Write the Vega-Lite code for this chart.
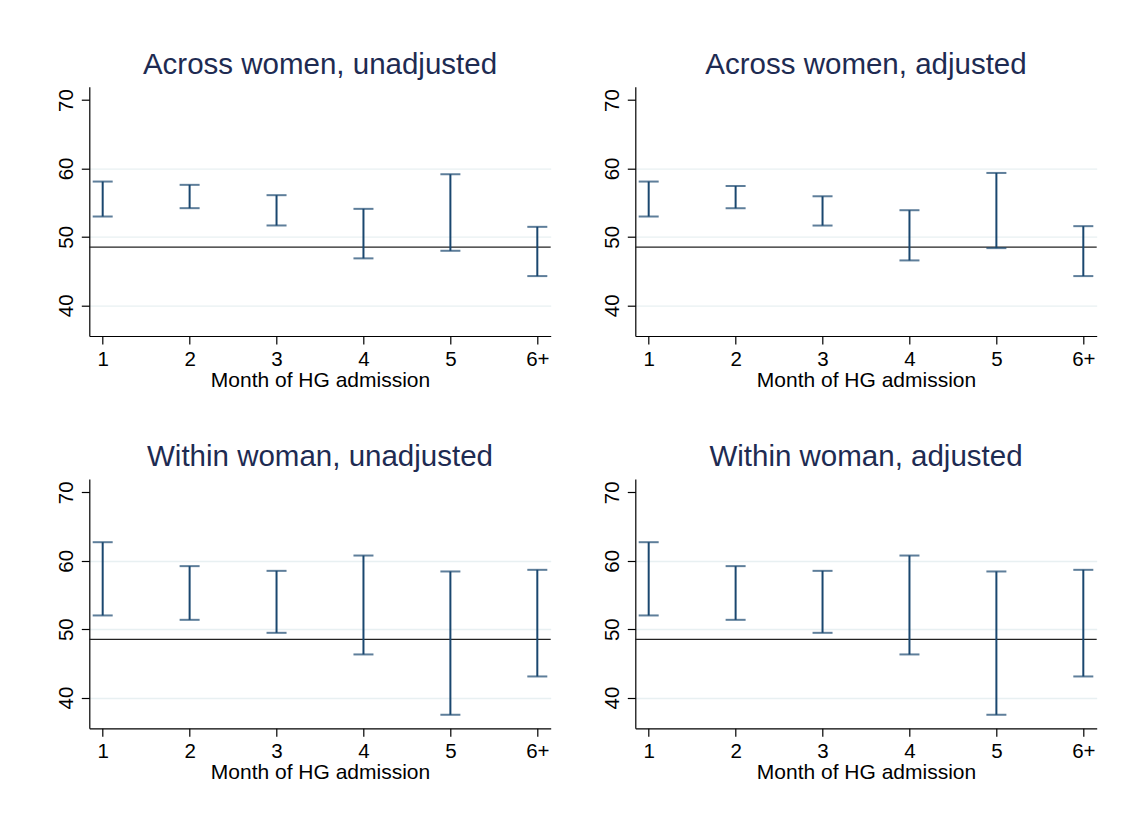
{
  "$schema": "https://vega.github.io/schema/vega-lite/v6.json",
  "autosize": {"type": "none"},
  "padding": {"left": 89.3, "top": 86.7, "right": 1040.7, "bottom": 736.3},
  "background": "white",
  "datasets": {
    "ci": [
      {"panel": "Across women, unadjusted", "month": 1, "lo": 52.97, "hi": 58.08},
      {"panel": "Across women, unadjusted", "month": 2, "lo": 54.19, "hi": 57.6},
      {"panel": "Across women, unadjusted", "month": 3, "lo": 51.66, "hi": 56.09},
      {"panel": "Across women, unadjusted", "month": 4, "lo": 46.85, "hi": 54.09},
      {"panel": "Across women, unadjusted", "month": 5, "lo": 47.96, "hi": 59.15},
      {"panel": "Across women, unadjusted", "month": 6, "lo": 44.26, "hi": 51.46},
      {"panel": "Across women, adjusted", "month": 1, "lo": 52.97, "hi": 58.08},
      {"panel": "Across women, adjusted", "month": 2, "lo": 54.18, "hi": 57.43},
      {"panel": "Across women, adjusted", "month": 3, "lo": 51.65, "hi": 55.93},
      {"panel": "Across women, adjusted", "month": 4, "lo": 46.55, "hi": 53.89},
      {"panel": "Across women, adjusted", "month": 5, "lo": 48.35, "hi": 59.34},
      {"panel": "Across women, adjusted", "month": 6, "lo": 44.26, "hi": 51.56},
      {"panel": "Within woman, unadjusted", "month": 1, "lo": 52.0, "hi": 62.71},
      {"panel": "Within woman, unadjusted", "month": 2, "lo": 51.36, "hi": 59.21},
      {"panel": "Within woman, unadjusted", "month": 3, "lo": 49.46, "hi": 58.52},
      {"panel": "Within woman, unadjusted", "month": 4, "lo": 46.3, "hi": 60.76},
      {"panel": "Within woman, unadjusted", "month": 5, "lo": 37.48, "hi": 58.43},
      {"panel": "Within woman, unadjusted", "month": 6, "lo": 43.08, "hi": 58.67},
      {"panel": "Within woman, adjusted", "month": 1, "lo": 52.0, "hi": 62.71},
      {"panel": "Within woman, adjusted", "month": 2, "lo": 51.36, "hi": 59.21},
      {"panel": "Within woman, adjusted", "month": 3, "lo": 49.46, "hi": 58.52},
      {"panel": "Within woman, adjusted", "month": 4, "lo": 46.3, "hi": 60.76},
      {"panel": "Within woman, adjusted", "month": 5, "lo": 37.48, "hi": 58.43},
      {"panel": "Within woman, adjusted", "month": 6, "lo": 43.08, "hi": 58.67}
    ],
    "ref": [{"ref": 48.5}]
  },
  "config": {
    "font": "Liberation Sans",
    "view": {"stroke": null, "fill": "white"},
    "title": {"fontSize": 29.5, "fontWeight": "normal", "color": "#1e2b52", "font": "Liberation Sans", "anchor": "middle", "baseline": "alphabetic", "offset": 6.7},
    "axis": {
      "domainColor": "#000000", "domainWidth": 1.2,
      "tickColor": "#000000", "tickWidth": 1.2, "tickSize": 8,
      "labelColor": "#000000", "labelFontSize": 20.5, "labelFont": "Liberation Sans",
      "titleColor": "#000000", "titleFontSize": 21, "titleFont": "Liberation Sans", "titleFontWeight": "normal"
    },
    "rule": {"color": "#1a476f", "strokeWidth": 2},
    "tick": {"color": "#1a476f", "thickness": 2, "size": 20, "orient": "horizontal"}
  },
  "bounds": "flush",
  "columns": 2,
  "spacing": {"row": 142.3, "column": 84},
  "concat": [
    {
      "title": "Across women, unadjusted", "width": 461.4, "height": 249.3,
      "layer": [
        {"data": {"name": "ref"}, "mark": {"type": "rule", "color": "#222222", "strokeWidth": 1.2},
         "encoding": {"y": {"field": "ref", "type": "quantitative", "scale": {"domain": [35.5, 71.95], "nice": false, "zero": false},
           "axis": {"values": [40, 50, 60, 70], "format": "d", "labelAngle": 270, "labelAlign": "center", "labelBaseline": "bottom", "labelPadding": 5, "labelFlush": false, "labelFontSize": 20.5, "grid": true, "gridWidth": 1.3, "gridColor": {"condition": {"test": "datum.value === 70", "value": "transparent"}, "value": "#e8f0f2"}, "title": null}}}},
        {"data": {"name": "ci"}, "transform": [{"filter": "datum.panel === 'Across women, unadjusted'"}], "mark": "rule",
         "encoding": {
           "x": {"field": "month", "type": "quantitative", "scale": {"domain": [0.846, 6.154], "nice": false, "zero": false}, "title": "Month of HG admission",
             "axis": {"values": [1, 2, 3, 4, 5, 6], "format": "d", "labelExpr": "datum.value == 6 ? '6+' : datum.label", "grid": false, "labelAngle": 0, "labelPadding": 5, "labelFlush": false, "labelFontSize": 20.5, "titleFontSize": 21, "titleBaseline": "alphabetic", "titlePadding": 17}},
           "y": {"field": "lo", "type": "quantitative", "title": null}, "y2": {"field": "hi"}}},
        {"data": {"name": "ci"}, "transform": [{"filter": "datum.panel === 'Across women, unadjusted'"}], "mark": "tick",
         "encoding": {"x": {"field": "month", "type": "quantitative", "title": "Month of HG admission"}, "y": {"field": "lo", "type": "quantitative", "title": null}}},
        {"data": {"name": "ci"}, "transform": [{"filter": "datum.panel === 'Across women, unadjusted'"}], "mark": "tick",
         "encoding": {"x": {"field": "month", "type": "quantitative", "title": "Month of HG admission"}, "y": {"field": "hi", "type": "quantitative", "title": null}}}
      ]
    },
    {
      "title": "Across women, adjusted", "width": 461.4, "height": 249.3,
      "layer": [
        {"data": {"name": "ref"}, "mark": {"type": "rule", "color": "#222222", "strokeWidth": 1.2},
         "encoding": {"y": {"field": "ref", "type": "quantitative", "scale": {"domain": [35.5, 71.95], "nice": false, "zero": false},
           "axis": {"values": [40, 50, 60, 70], "format": "d", "labelAngle": 270, "labelAlign": "center", "labelBaseline": "bottom", "labelPadding": 5, "labelFlush": false, "labelFontSize": 20.5, "grid": true, "gridWidth": 1.3, "gridColor": {"condition": {"test": "datum.value === 70", "value": "transparent"}, "value": "#e8f0f2"}, "title": null}}}},
        {"data": {"name": "ci"}, "transform": [{"filter": "datum.panel === 'Across women, adjusted'"}], "mark": "rule",
         "encoding": {
           "x": {"field": "month", "type": "quantitative", "scale": {"domain": [0.846, 6.154], "nice": false, "zero": false}, "title": "Month of HG admission",
             "axis": {"values": [1, 2, 3, 4, 5, 6], "format": "d", "labelExpr": "datum.value == 6 ? '6+' : datum.label", "grid": false, "labelAngle": 0, "labelPadding": 5, "labelFlush": false, "labelFontSize": 20.5, "titleFontSize": 21, "titleBaseline": "alphabetic", "titlePadding": 17}},
           "y": {"field": "lo", "type": "quantitative", "title": null}, "y2": {"field": "hi"}}},
        {"data": {"name": "ci"}, "transform": [{"filter": "datum.panel === 'Across women, adjusted'"}], "mark": "tick",
         "encoding": {"x": {"field": "month", "type": "quantitative", "title": "Month of HG admission"}, "y": {"field": "lo", "type": "quantitative", "title": null}}},
        {"data": {"name": "ci"}, "transform": [{"filter": "datum.panel === 'Across women, adjusted'"}], "mark": "tick",
         "encoding": {"x": {"field": "month", "type": "quantitative", "title": "Month of HG admission"}, "y": {"field": "hi", "type": "quantitative", "title": null}}}
      ]
    },
    {
      "title": "Within woman, unadjusted", "width": 461.4, "height": 249.3,
      "layer": [
        {"data": {"name": "ref"}, "mark": {"type": "rule", "color": "#222222", "strokeWidth": 1.2},
         "encoding": {"y": {"field": "ref", "type": "quantitative", "scale": {"domain": [35.5, 71.95], "nice": false, "zero": false},
           "axis": {"values": [40, 50, 60, 70], "format": "d", "labelAngle": 270, "labelAlign": "center", "labelBaseline": "bottom", "labelPadding": 5, "labelFlush": false, "labelFontSize": 20.5, "grid": true, "gridWidth": 1.3, "gridColor": {"condition": {"test": "datum.value === 70", "value": "transparent"}, "value": "#e8f0f2"}, "title": null}}}},
        {"data": {"name": "ci"}, "transform": [{"filter": "datum.panel === 'Within woman, unadjusted'"}], "mark": "rule",
         "encoding": {
           "x": {"field": "month", "type": "quantitative", "scale": {"domain": [0.846, 6.154], "nice": false, "zero": false}, "title": "Month of HG admission",
             "axis": {"values": [1, 2, 3, 4, 5, 6], "format": "d", "labelExpr": "datum.value == 6 ? '6+' : datum.label", "grid": false, "labelAngle": 0, "labelPadding": 5, "labelFlush": false, "labelFontSize": 20.5, "titleFontSize": 21, "titleBaseline": "alphabetic", "titlePadding": 17}},
           "y": {"field": "lo", "type": "quantitative", "title": null}, "y2": {"field": "hi"}}},
        {"data": {"name": "ci"}, "transform": [{"filter": "datum.panel === 'Within woman, unadjusted'"}], "mark": "tick",
         "encoding": {"x": {"field": "month", "type": "quantitative", "title": "Month of HG admission"}, "y": {"field": "lo", "type": "quantitative", "title": null}}},
        {"data": {"name": "ci"}, "transform": [{"filter": "datum.panel === 'Within woman, unadjusted'"}], "mark": "tick",
         "encoding": {"x": {"field": "month", "type": "quantitative", "title": "Month of HG admission"}, "y": {"field": "hi", "type": "quantitative", "title": null}}}
      ]
    },
    {
      "title": "Within woman, adjusted", "width": 461.4, "height": 249.3,
      "layer": [
        {"data": {"name": "ref"}, "mark": {"type": "rule", "color": "#222222", "strokeWidth": 1.2},
         "encoding": {"y": {"field": "ref", "type": "quantitative", "scale": {"domain": [35.5, 71.95], "nice": false, "zero": false},
           "axis": {"values": [40, 50, 60, 70], "format": "d", "labelAngle": 270, "labelAlign": "center", "labelBaseline": "bottom", "labelPadding": 5, "labelFlush": false, "labelFontSize": 20.5, "grid": true, "gridWidth": 1.3, "gridColor": {"condition": {"test": "datum.value === 70", "value": "transparent"}, "value": "#e8f0f2"}, "title": null}}}},
        {"data": {"name": "ci"}, "transform": [{"filter": "datum.panel === 'Within woman, adjusted'"}], "mark": "rule",
         "encoding": {
           "x": {"field": "month", "type": "quantitative", "scale": {"domain": [0.846, 6.154], "nice": false, "zero": false}, "title": "Month of HG admission",
             "axis": {"values": [1, 2, 3, 4, 5, 6], "format": "d", "labelExpr": "datum.value == 6 ? '6+' : datum.label", "grid": false, "labelAngle": 0, "labelPadding": 5, "labelFlush": false, "labelFontSize": 20.5, "titleFontSize": 21, "titleBaseline": "alphabetic", "titlePadding": 17}},
           "y": {"field": "lo", "type": "quantitative", "title": null}, "y2": {"field": "hi"}}},
        {"data": {"name": "ci"}, "transform": [{"filter": "datum.panel === 'Within woman, adjusted'"}], "mark": "tick",
         "encoding": {"x": {"field": "month", "type": "quantitative", "title": "Month of HG admission"}, "y": {"field": "lo", "type": "quantitative", "title": null}}},
        {"data": {"name": "ci"}, "transform": [{"filter": "datum.panel === 'Within woman, adjusted'"}], "mark": "tick",
         "encoding": {"x": {"field": "month", "type": "quantitative", "title": "Month of HG admission"}, "y": {"field": "hi", "type": "quantitative", "title": null}}}
      ]
    }
  ]
}
